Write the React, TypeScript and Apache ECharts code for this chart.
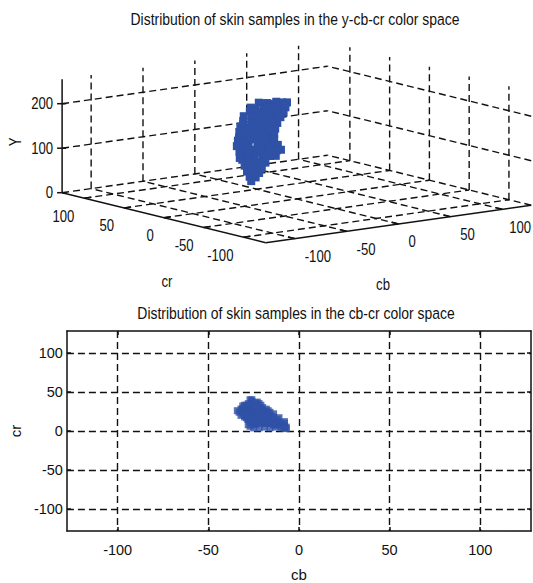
import React, { useEffect, useRef } from 'react';
import * as echarts from 'echarts';

// ---- axes ----
const AXIS_MIN = -128;
const AXIS_MAX = 128;
const Y_MAX = 255;
const CB_TICKS = [-100, -50, 0, 50, 100];
const CR_TICKS = [-100, -50, 0, 50, 100];
const Y_TICKS = [0, 100, 200];
const TITLE_3D = 'Distribution of skin samples in the y-cb-cr color space';
const TITLE_2D = 'Distribution of skin samples in the cb-cr color space';

// ---- skin samples: [cb, cr, Y] ----
const upperSamples: number[][] = [
  [-7, 3, 218], [-10, 5, 218], [-12, 10, 218], [-19, 5, 218], [-21, 10, 218], [-24, 10, 218], [-25, 15, 218],
  [-7, 5, 206], [-13, 5, 206], [-15, 10, 206], [-21, 10, 206], [-24, 10, 206], [-28, 15, 206], [-29, 20, 206],
  [-8, 6, 194], [-10, 10, 194], [-16, 10, 194], [-19, 15, 194], [-22, 15, 194], [-23, 20, 194], [-26, 25, 194],
  [-8, 10, 182], [-12, 12, 182], [-17, 15, 182], [-20, 20, 182], [-22, 22, 182], [-24, 25, 182], [-28, 30, 182],
  [-11, 10, 170], [-15, 12, 170], [-19, 15, 170], [-20, 22, 170], [-24, 25, 170], [-27, 32, 170],
  [-13, 10, 158], [-17, 14, 158], [-21, 18, 158], [-23, 23, 158], [-26, 27, 158], [-29, 33, 158],
];
const middleSamples: number[][] = [
  [-14, 10, 146], [-18, 13, 146], [-22, 17, 146], [-25, 22, 146], [-28, 27, 146], [-30, 33, 146],
  [-14, 10, 134], [-19, 12, 134], [-23, 16, 134], [-26, 21, 134], [-29, 26, 134], [-31, 32, 134],
  [-12, 8, 122], [-16, 10, 122], [-20, 13, 122], [-24, 18, 122], [-28, 24, 122], [-30, 30, 122], [-26, 40, 122],
  [-9, 8, 110], [-13, 8, 110], [-17, 10, 110], [-21, 14, 110], [-25, 19, 110], [-28, 24, 110], [-31, 28, 110], [-27, 40, 110],
  [-14, 8, 98], [-18, 10, 98], [-22, 14, 98], [-26, 19, 98], [-29, 24, 98], [-32, 28, 98], [-26, 38, 98],
];
const lowerSamples: number[][] = [
  [-24, 8, 86], [-26, 13, 86], [-28, 18, 86], [-30, 23, 86], [-31, 28, 86], [-28, 35, 86],
  [-26, 10, 74], [-28, 15, 74], [-30, 20, 74], [-31, 25, 74],
  [-27, 12, 62], [-29, 17, 62], [-31, 22, 62],
  [-28, 15, 51], [-30, 20, 51],
  [-30, 18, 42],
];
const edgeSamples: number[][] = [
  [-20, 30, 150], [-17, 26, 128], [-14, 22, 115], [-11, 17, 104], [-22, 35, 140], [-8, 12, 188],
  [-24, 36, 160], [-18, 28, 176], [-25, 4, 200], [-22, 4, 212], [-27, 6, 92], [-28, 8, 80],
  [-16, 4, 190], [-9, 4, 210], [-8, 4, 214], [-34, 26, 130], [-33, 24, 116], [-32, 20, 104],
  [-15, 17, 138], [-18, 20, 100], [-12, 15, 166],
];
const innerSamples: number[][] = [
  [-16, 20, 130], [-14, 18, 118], [-19, 24, 155], [-16, 24, 142], [-21, 27, 165], [-20, 18, 110],
  [-22, 30, 136], [-24, 31, 152], [-21, 33, 125], [-25, 33, 144], [-23, 37, 118],
  [-19, 24, 122], [-18, 22, 108],
];
const skinSamples = [...upperSamples, ...middleSamples, ...lowerSamples, ...edgeSamples, ...innerSamples];

// ---- styling ----
const FONT = '"Liberation Sans", Arial, sans-serif';
const NARROW = 0.82; // horizontal squeeze of the reference's condensed lettering
const INK = '#111111';
const BLUE = '#2f51a6';
const DASH = [7, 4];

// placement of the 3D box on the page (pixels): front-bottom corner and edge vectors
const BOX = { ox: 265.7, oy: 242.7, ux: 265.5, uy: -37.5, vx: -203.6, vy: -50, zs: 0.445 };

function project(cb: number, cr: number, y: number): [number, number] {
  const u = (cb - AXIS_MIN) / (AXIS_MAX - AXIS_MIN);
  const v = (cr - AXIS_MIN) / (AXIS_MAX - AXIS_MIN);
  return [BOX.ox + BOX.ux * u + BOX.vx * v, BOX.oy + BOX.uy * u + BOX.vy * v - BOX.zs * y];
}

function seg(a: [number, number], b: [number, number], dashed: boolean) {
  return {
    type: 'line',
    silent: true,
    z: 1,
    shape: { x1: a[0], y1: a[1], x2: b[0], y2: b[1] },
    style: { stroke: INK, lineWidth: dashed ? 1.4 : 1.5, lineDash: dashed ? DASH : null },
  };
}

function label(text: string, x: number, y: number, align: string, size = 16, rotation = 0) {
  return {
    type: 'text',
    silent: true,
    z: 2,
    x,
    y,
    rotation,
    scaleX: NARROW,
    style: {
      text,
      x: 0,
      y: 0,
      fill: INK,
      font: `${size}px ${FONT}`,
      fontSize: size,
      fontFamily: FONT,
      align,
      textAlign: align,
      verticalAlign: 'middle',
      textVerticalAlign: 'middle',
    },
  };
}

function buildFrame3D() {
  const els: any[] = [];
  // floor grid
  CB_TICKS.forEach((cb) => els.push(seg(project(cb, AXIS_MIN, 0), project(cb, AXIS_MAX, 0), true)));
  CR_TICKS.forEach((cr) => els.push(seg(project(AXIS_MIN, cr, 0), project(AXIS_MAX, cr, 0), true)));
  // back wall (cr = max)
  CB_TICKS.forEach((cb) => els.push(seg(project(cb, AXIS_MAX, 0), project(cb, AXIS_MAX, Y_MAX), true)));
  Y_TICKS.forEach((y) => els.push(seg(project(AXIS_MIN, AXIS_MAX, y), project(AXIS_MAX, AXIS_MAX, y), true)));
  // back wall (cb = max)
  CR_TICKS.forEach((cr) => els.push(seg(project(AXIS_MAX, cr, 0), project(AXIS_MAX, cr, Y_MAX), true)));
  Y_TICKS.forEach((y) => els.push(seg(project(AXIS_MAX, AXIS_MIN, y), project(AXIS_MAX, AXIS_MAX, y), true)));
  // axes
  els.push(seg(project(AXIS_MIN, AXIS_MAX, 0), project(AXIS_MIN, AXIS_MAX, Y_MAX), false));
  els.push(seg(project(AXIS_MIN, AXIS_MIN, 0), project(AXIS_MIN, AXIS_MAX, 0), false));
  els.push(seg(project(AXIS_MIN, AXIS_MIN, 0), project(AXIS_MAX, AXIS_MIN, 0), false));
  // ticks and tick labels
  const ul = Math.hypot(BOX.ux, BOX.uy);
  const vl = Math.hypot(BOX.vx, BOX.vy);
  Y_TICKS.forEach((y) => {
    const p = project(AXIS_MIN, AXIS_MAX, y);
    els.push(seg([p[0] - 5, p[1]], [p[0] + 4, p[1]], false));
    els.push(label(String(y), p[0] - 9, p[1], 'right'));
  });
  CR_TICKS.forEach((cr) => {
    const p = project(AXIS_MIN, cr, 0);
    els.push(seg(p, [p[0] + (BOX.ux / ul) * 7, p[1] + (BOX.uy / ul) * 7], false));
    els.push(label(String(cr), p[0] - 10, p[1] + 18, 'right'));
  });
  CB_TICKS.forEach((cb, i) => {
    const p = project(cb, AXIS_MIN, 0);
    els.push(seg(p, [p[0] + (BOX.vx / vl) * 7, p[1] + (BOX.vy / vl) * 7], false));
    const dx = i === CB_TICKS.length - 1 ? 7 : 10;
    els.push(label(String(cb), p[0] + dx, p[1] + 18, 'left'));
  });
  // axis names & titles
  els.push(label('Y', 16, 142, 'center', 16, Math.PI / 2));
  els.push(label('cr', 167, 282, 'center'));
  els.push(label('cb', 383, 285, 'center'));
  els.push(label(TITLE_3D, 295, 19, 'center', 17));
  els.push(label(TITLE_2D, 296, 313, 'center', 17));
  return els;
}

export default function App() {
  const ref = useRef<HTMLDivElement>(null);
  useEffect(() => {
    if (!ref.current) return;
    const chart = echarts.init(ref.current, undefined, { renderer: 'svg' });
    const axisText = { color: INK, fontSize: 14.5, fontFamily: FONT };
    const nameText = { color: INK, fontSize: 15, fontFamily: FONT };
    const lineStyle = { color: INK, width: 1.5 };
    const gridDash = { color: INK, width: 1.4, type: DASH };
    const option: any = {
      animation: false,
      backgroundColor: '#ffffff',
      textStyle: { fontFamily: FONT },
      grid: [{ left: 63, top: 331, width: 468, height: 203, show: false }],
      xAxis: [
        {
          type: 'value', gridIndex: 0, position: 'bottom', min: AXIS_MIN, max: AXIS_MAX,
          axisLine: { show: true, onZero: false, lineStyle },
          axisTick: { show: true, inside: true, length: 4, customValues: CB_TICKS, lineStyle },
          axisLabel: { show: true, customValues: CB_TICKS, margin: 11, ...axisText },
          splitLine: { show: true, lineStyle: gridDash },
          name: 'cb', nameLocation: 'middle', nameGap: 36, nameTextStyle: nameText,
        },
        {
          type: 'value', gridIndex: 0, position: 'top', min: AXIS_MIN, max: AXIS_MAX,
          axisLine: { show: true, onZero: false, lineStyle },
          axisTick: { show: true, inside: true, length: 4, customValues: CB_TICKS, lineStyle },
          axisLabel: { show: false },
          splitLine: { show: false },
        },
      ],
      yAxis: [
        {
          type: 'value', gridIndex: 0, position: 'left', min: AXIS_MIN, max: AXIS_MAX,
          axisLine: { show: true, onZero: false, lineStyle },
          axisTick: { show: true, inside: true, length: 4, customValues: CR_TICKS, lineStyle },
          axisLabel: { show: true, customValues: CR_TICKS, margin: 4, ...axisText },
          splitLine: { show: true, lineStyle: gridDash },
          name: 'cr', nameLocation: 'middle', nameGap: 36, nameRotate: 90, nameTextStyle: nameText,
        },
        {
          type: 'value', gridIndex: 0, position: 'right', min: AXIS_MIN, max: AXIS_MAX,
          axisLine: { show: true, onZero: false, lineStyle },
          axisTick: { show: true, inside: true, length: 4, customValues: CR_TICKS, lineStyle },
          axisLabel: { show: false },
          splitLine: { show: false },
        },
      ],
      series: [
        {
          name: 'cb-cr',
          type: 'scatter',
          xAxisIndex: 0,
          yAxisIndex: 0,
          silent: true,
          z: 3,
          symbol: 'rect',
          symbolSize: 7,
          itemStyle: { color: BLUE },
          data: skinSamples.map((s) => [s[0], s[1]]),
        },
        {
          name: 'y-cb-cr',
          type: 'custom',
          coordinateSystem: 'none',
          silent: true,
          z: 5,
          data: skinSamples,
          renderItem: (_params: any, api: any) => {
            const [x, y] = project(api.value(0), api.value(1), api.value(2));
            return { type: 'rect', shape: { x: x - 4, y: y - 4, width: 8, height: 8 }, style: { fill: BLUE } };
          },
        },
      ],
      graphic: { elements: buildFrame3D() },
    };
    chart.setOption(option);
    return () => chart.dispose();
  }, []);
  return (
    <div
      ref={ref}
      style={{ position: 'absolute', left: 0, top: 0, width: 533, height: 583, background: '#fff' }}
    />
  );
}
